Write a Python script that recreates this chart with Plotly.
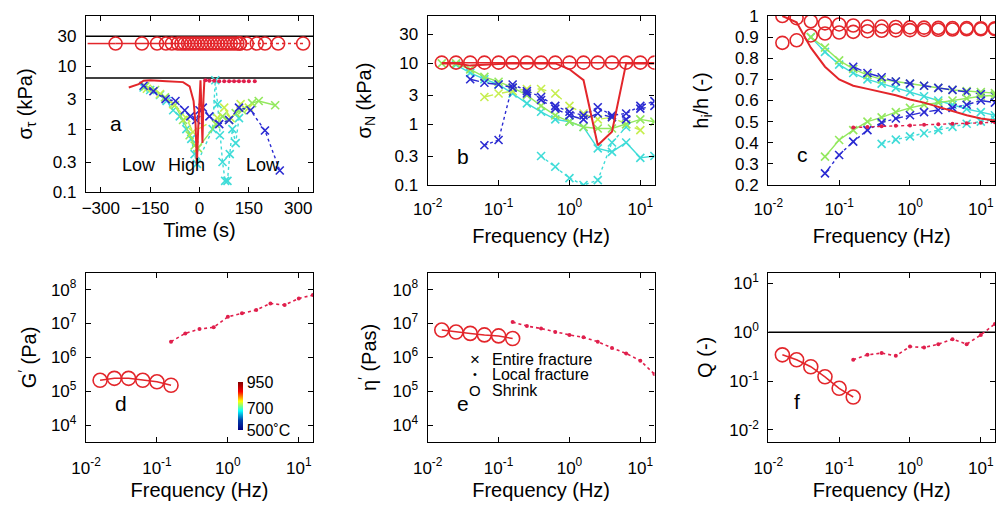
import plotly.graph_objects as go

# ---------------- data ----------------
FREQ = [0.0158, 0.0251, 0.0398, 0.0631, 0.1, 0.158, 0.251, 0.398, 0.631,
        1.0, 1.58, 2.51, 3.98, 6.31, 10.0, 15.8]

# panel a (time series)
a_circ_t = [-255, -175, -129, -102, -84, -66, -55, -45, -35, -25, -15, -5, 5, 15,
            25, 35, 45, 55, 65, 75, 85, 95, 105, 115, 123]
a_circ_v = [23] * len(a_circ_t)
a_circ2_t = [123, 144, 174, 199, 239, 315]
a_circ2_v = [23, 23, 23, 23, 23, 23]
a_redlead_t = [-340, -255]
a_redlead_v = [23, 23]
a_red_t = [-215, -185, -170, -150, -100, -50, -30, -18, -12, -8, -4, 0, 3, 6, 9, 12, 15]
a_red_v = [4.6, 5.2, 5.9, 6.0, 5.8, 5.6, 4.8, 2.8, 1.2, 0.28, 1.0, 4.0, 6.0, 2.0, 0.6, 3.0, 6.2]
a_loc_t = [18, 30, 45, 60, 75, 90, 105, 120, 135, 150, 168]
a_loc_v = [6.0, 5.9, 5.9, 5.8, 5.8, 5.8, 5.8, 5.8, 5.8, 5.8, 5.8]
a_blue_t = [-170, -140, -103, -73, -45, -28, -10, 0, 10, 30, 60, 90, 120, 155, 199, 244]
a_blue_v = [4.9, 4.0, 3.0, 2.8, 2.0, 1.6, 1.4, 2.0, 2.2, 1.6, 1.2, 1.4, 2.2, 2.0, 0.95, 0.22]
a_cyan_t = [-170, -150, -120, -100, -80, -60, -40, -25, -15, -8, 40, 48, 55, 62, 70, 78,
            85, 92, 100, 110, 120]
a_cyan_v = [4.6, 4.2, 3.5, 2.8, 2.0, 1.6, 1.0, 0.7, 0.4, 0.28, 1.0, 6.0, 2.5, 0.8, 0.3,
            0.15, 0.15, 0.4, 1.0, 0.6, 1.5]
a_lgreen_t = [-165, -135, -105, -75, -50, -30, -15, -5, 50, 70, 90, 110, 130, 160, 180, 230]
a_lgreen_v = [4.8, 4.2, 3.2, 2.4, 1.4, 0.8, 0.55, 0.5, 1.2, 1.6, 1.4, 1.8, 2.0, 2.6, 2.8, 2.4]
a_ygreen_t = [-160, -120, -80, -40, -20, 55, 75, 95, 125, 150]
a_ygreen_v = [4.4, 3.6, 2.5, 1.5, 0.9, 1.5, 2.2, 1.5, 2.5, 2.2]
a_ref_levels = [30, 6.5]
a_time_span = [-345, 345]

# panel b (sigma_N)
b_circ = [10.3] * 16
b_red = [10, 10, 9.2, 9.6, 9.8, 10, 10, 10, 10, 8.0, 5.3, 0.45, 0.75, 10, 10, 10]
b_blue_dash = [5.5, 4.8, 4.5, 4.0, 3.2, 2.5, 1.8, 1.4, 1.2, 1.5, 1.3, 1.2, 1.8, 2.0]      # FREQ[2:]
b_blue_dot = [0.45, 0.55, 4.5, 3.5, 2.8, 2.0, 1.6, 1.4, 1.9, 1.4, 1.5, 2.0, 2.4]         # FREQ[3:]
b_cyan = [9.5, 7.0, 5.5, 4.5, 3.2, 2.2, 1.6, 1.2, 1.1, 0.9, 0.4, 0.35, 0.5, 0.28, 0.3]   # FREQ[1:]
b_cyan2 = [0.3, 0.2, 0.13, 0.1, 0.12, 0.5, 0.9]                                         # FREQ[7:14]
b_lgreen = [10, 10, 8, 6, 5, 4, 3, 2, 1.4, 1.1, 0.9, 0.85, 0.85, 1.0, 1.2, 1.1]
b_ygreen = [2.8, 3.2, 3.5, 3.8, 3.8, 3.2, 2.0, 1.5, 1.2, 1.3, 1.0, 0.8]                 # FREQ[3:15]

# panel c (h_i/h)
c_circ_top = [1.0, 0.99, 0.975, 0.965, 0.96, 0.955, 0.95, 0.95, 0.948, 0.946, 0.945,
              0.944, 0.943, 0.943, 0.942, 0.942]
c_circ_bot = [0.873, 0.885, 0.908, 0.917, 0.922, 0.925, 0.928, 0.93, 0.932, 0.933, 0.934,
              0.935, 0.936, 0.937, 0.937, 0.938]
c_red = [1.0, 0.97, 0.85, 0.76, 0.70, 0.67, 0.655, 0.64, 0.625, 0.605, 0.59, 0.57, 0.55,
         0.53, 0.515, 0.505]
c_loc = [0.472, 0.475, 0.478, 0.48, 0.482, 0.485, 0.487, 0.49, 0.492, 0.495, 0.497]     # FREQ[5:]
c_lgreen_up = [0.9, 0.85, 0.79, 0.75, 0.72, 0.70, 0.69, 0.68, 0.67, 0.66, 0.65, 0.645, 0.64, 0.635]  # FREQ[2:]
c_cyan_up = [0.9, 0.83, 0.77, 0.73, 0.70, 0.68, 0.66, 0.64, 0.62, 0.60, 0.58, 0.56, 0.545, 0.53]     # FREQ[2:]
c_blue_up = [0.76, 0.73, 0.71, 0.69, 0.68, 0.67, 0.66, 0.65, 0.64, 0.63, 0.62]                       # FREQ[5:]
c_blue_lo = [0.255, 0.342, 0.405, 0.46, 0.495, 0.515, 0.53, 0.545, 0.555, 0.565, 0.58, 0.6, 0.59]  # FREQ[3:]
c_lgreen_lo = [0.334, 0.413, 0.46, 0.50, 0.52, 0.545, 0.565, 0.58, 0.59, 0.60, 0.61, 0.62, 0.625]  # FREQ[3:]
c_cyan_lo = [0.395, 0.415, 0.43, 0.445, 0.46, 0.475, 0.49, 0.50, 0.51]                             # FREQ[7:]

# panel d (G')
d_circ = [2.1e5, 2.4e5, 2.4e5, 2.1e5, 1.9e5, 1.5e5]              # FREQ[:6]
d_loc = [2.9e6, 5.1e6, 6.9e6, 7.7e6, 1.58e7, 2.0e7, 2.5e7, 3.9e7, 3.5e7, 5.5e7, 6.9e7]  # FREQ[5:]
# panel e (eta')
e_circ = [6.4e6, 5.6e6, 5.1e6, 4.6e6, 4.3e6, 3.6e6]
e_loc = [1.1e7, 8.4e6, 7.1e6, 5.6e6, 4.6e6, 3.9e6, 2.9e6, 1.9e6, 1.3e6, 8.0e5, 3.2e5]
# panel f (Q)
f_circ = [0.344, 0.272, 0.196, 0.122, 0.071, 0.047]
f_loc = [0.272, 0.344, 0.373, 0.328, 0.508, 0.485, 0.569, 0.72, 0.569, 0.88, 1.48]
f_ref_level = 1.0
freq_span = [0.01, 15.85]

temp_ticks = [500, 700, 950]
temp_labels = ["500˚C", "700", "950"]
legend_symbols = ["×", "•", "O"]
legend_names = ["Entire fracture", "Local fracture", "Shrink"]

# ---------------- style ----------------
RED = "#e3262b"
CRIMSON = "#e01f4c"
BLUE = "#2b2bd2"
CYAN = "#3fdcd8"
LGREEN = "#93e85e"
YGREEN = "#c6ee4e"
FONT = "Liberation Sans, Arial, sans-serif"

fig = go.Figure()


def xm(color):
    return dict(symbol="x-thin", size=8, color=color, line=dict(width=1.6, color=color))


def add(x, y, ax, mode="lines+markers", color="black", dash="solid", width=1.4,
        marker=None, name=None):
    xa = "x" if ax == 1 else f"x{ax}"
    ya = "y" if ax == 1 else f"y{ax}"
    fig.add_trace(go.Scatter(x=x, y=y, xaxis=xa, yaxis=ya, mode=mode,
                             line=dict(color=color, dash=dash, width=width),
                             marker=marker or {}, name=name, showlegend=False))


circ = dict(symbol="circle-open", size=13, color=RED, line=dict(width=1.6, color=RED))
circ_big = dict(symbol="circle-open", size=14, color=RED, line=dict(width=1.6, color=RED))
dotm = dict(symbol="circle", size=4, color=CRIMSON)

# panel a
for lvl in a_ref_levels:
    add(a_time_span, [lvl, lvl], 1, mode="lines", color="black", width=1.5)
add(a_cyan_t, a_cyan_v, 1, color=CYAN, dash="dot", marker=xm(CYAN))
add(a_lgreen_t, a_lgreen_v, 1, color=LGREEN, dash="solid", marker=xm(LGREEN))
add(a_ygreen_t, a_ygreen_v, 1, color=YGREEN, dash="dash", marker=xm(YGREEN))
add(a_blue_t, a_blue_v, 1, color=BLUE, dash="dot", marker=xm(BLUE))
add(a_red_t, a_red_v, 1, mode="lines", color=RED, width=2)
add(a_loc_t, a_loc_v, 1, color=CRIMSON, dash="dot", marker=dotm)
add(a_redlead_t, a_redlead_v, 1, mode="lines", color=RED, width=1.5)
add(a_circ_t, a_circ_v, 1, color=RED, marker=circ, width=1.5)
add(a_circ2_t, a_circ2_v, 1, color=RED, dash="dot", marker=circ, width=1.5)

# panel b
add(FREQ[7:14], b_cyan2, 2, color=CYAN, dash="dot", marker=xm(CYAN))
add(FREQ[1:], b_cyan, 2, color=CYAN, marker=xm(CYAN))
add(FREQ[3:15], b_ygreen, 2, color=YGREEN, dash="dash", marker=xm(YGREEN))
add(FREQ, b_lgreen, 2, color=LGREEN, marker=xm(LGREEN))
add(FREQ[3:], b_blue_dot, 2, color=BLUE, dash="dot", marker=xm(BLUE))
add(FREQ[2:], b_blue_dash, 2, color=BLUE, dash="dash", marker=xm(BLUE))
add(FREQ, b_red, 2, mode="lines", color=RED, width=2)
add(FREQ, b_circ, 2, color=RED, marker=circ, width=1.5)

# panel c
add(FREQ[2:], c_cyan_up, 3, color=CYAN, marker=xm(CYAN))
add(FREQ[2:], c_lgreen_up, 3, color=LGREEN, marker=xm(LGREEN))
add(FREQ[5:], c_blue_up, 3, color=BLUE, dash="dash", marker=xm(BLUE))
add(FREQ[7:], c_cyan_lo, 3, color=CYAN, dash="dot", marker=xm(CYAN))
add(FREQ[3:], c_lgreen_lo, 3, color=LGREEN, marker=xm(LGREEN))
add(FREQ[3:], c_blue_lo, 3, color=BLUE, dash="dashdot", marker=xm(BLUE))
add(FREQ[5:], c_loc, 3, color=CRIMSON, dash="dot", marker=dotm)
add(FREQ, c_red, 3, mode="lines", color=RED, width=2)
add(FREQ, c_circ_top, 3, mode="markers", marker=circ)
add(FREQ, c_circ_bot, 3, mode="markers", marker=circ)

# panel d
add(FREQ[:6], d_circ, 4, color=RED, marker=circ_big, width=1.5)
add(FREQ[5:], d_loc, 4, color=CRIMSON, dash="dot", marker=dotm, width=1.6)
fig.add_trace(go.Scatter(
    x=[None], y=[None], xaxis="x4", yaxis="y4", mode="markers", showlegend=False,
    marker=dict(color=[500], cmin=500, cmax=950, colorscale="Jet", showscale=True,
                colorbar=dict(x=0.2375, xanchor="left", y=1 - 430 / 514, yanchor="bottom",
                              len=48 / 514, lenmode="fraction", thickness=5,
                              outlinewidth=0, ticks="", tickvals=temp_ticks,
                              ticktext=temp_labels, xpad=0, ypad=0,
                              tickfont=dict(size=16, color="black", family=FONT)))))

# panel e
add(FREQ[:6], e_circ, 5, color=RED, marker=circ_big, width=1.5)
add(FREQ[5:], e_loc, 5, color=CRIMSON, dash="dot", marker=dotm, width=1.6)

# panel f
add(freq_span, [f_ref_level, f_ref_level], 6, mode="lines", color="black", width=1.5)
add(FREQ[:6], f_circ, 6, color=RED, marker=circ_big, width=1.5)
add(FREQ[5:], f_loc, 6, color=CRIMSON, dash="dot", marker=dotm, width=1.6)

# ---------------- axes ----------------
W, H = 1002, 514


def dom_x(l, r):
    return [l / W, r / W]


def dom_y(top, bot):
    return [1 - bot / H, 1 - top / H]


common = dict(showline=True, linecolor="black", linewidth=1.3, mirror="ticks",
              ticks="inside", ticklen=5, tickcolor="black", showgrid=False, zeroline=False,
              automargin=False,
              tickfont=dict(size=17, color="black", family=FONT))
TF = dict(size=20, color="black", family=FONT)

fvals = [0.01, 0.1, 1, 10]
ftext = ["10<sup>-2</sup>", "10<sup>-1</sup>", "10<sup>0</sup>", "10<sup>1</sup>"]
kvals = [0.1, 0.3, 1, 3, 10, 30]
ktext = ["0.1", "0.3", "1", "3", "10", "30"]
pvals = [1e4, 1e5, 1e6, 1e7, 1e8]
ptext = ["10<sup>4</sup>", "10<sup>5</sup>", "10<sup>6</sup>", "10<sup>7</sup>", "10<sup>8</sup>"]


def freq_ax(dom, anchor, tls, so):
    return dict(domain=dom, anchor=anchor, type="log", range=[-2, 1.2], tickvals=fvals,
                ticktext=ftext, ticklabelstandoff=tls,
                title=dict(text="Frequency (Hz)", standoff=so, font=TF), **common)


def y_ax(dom, anchor, title, so, **kw):
    return dict(domain=dom, anchor=anchor, ticklabelstandoff=5,
                title=dict(text=title, standoff=so, font=TF), **kw, **common)


XL = [86, 427.7, 768.3]
XR = [313, 654.5, 995]
TOP = dom_y(16, 185)
BOT = dom_y(272.7, 442)

layout = dict(
    width=W, height=H, margin=dict(l=0, r=0, t=0, b=0, autoexpand=False),
    paper_bgcolor="white", plot_bgcolor="white",
    font=dict(family=FONT, color="black"),
    xaxis=dict(domain=dom_x(XL[0], XR[0]), range=a_time_span,
               tickvals=[-300, -150, 0, 150, 300], anchor="y",
               title=dict(text="Time (s)", standoff=6, font=TF), **common),
    yaxis=y_ax(dom_y(16, 192), "x", "σ<sub>τ</sub> (kPa)", 14, type="log",
               range=[-1, 1.8], tickvals=kvals, ticktext=ktext),
    xaxis2=freq_ax(dom_x(XL[1], XR[1]), "y2", 8, 11),
    yaxis2=y_ax(TOP, "x2", "σ<sub>N</sub> (kPa)", 17, type="log", range=[-1, 1.78],
                tickvals=kvals, ticktext=ktext),
    xaxis3=freq_ax(dom_x(XL[2], XR[2]), "y3", 8, 11),
    yaxis3=y_ax(TOP, "x3", "h<sub>i</sub>/h (-)", 21, range=[0.2, 1.0],
                tickvals=[0.2, 0.3, 0.4, 0.5, 0.6, 0.7, 0.8, 0.9, 1.0],
                ticktext=["0.2", "0.3", "0.4", "0.5", "0.6", "0.7", "0.8", "0.9", "1"]),
    xaxis4=freq_ax(dom_x(XL[0], XR[0]), "y4", 10, 6),
    yaxis4=y_ax(BOT, "x4", "G<sup>′</sup> (Pa)", 8, type="log", range=[3.5, 8.5],
                tickvals=pvals, ticktext=ptext),
    xaxis5=freq_ax(dom_x(XL[1], XR[1]), "y5", 10, 6),
    yaxis5=y_ax(BOT, "x5", "η<sup>′</sup> (Pas)", 10, type="log", range=[3.5, 8.5],
                tickvals=pvals, ticktext=ptext),
    xaxis6=freq_ax(dom_x(XL[2], XR[2]), "y6", 10, 6),
    yaxis6=y_ax(BOT, "x6", "Q (-)", 11, type="log", range=[-2.25, 1.22],
                tickvals=[0.01, 0.1, 1, 10],
                ticktext=["10<sup>-2</sup>", "10<sup>-1</sup>", "10<sup>0</sup>", "10<sup>1</sup>"]),
    showlegend=False,
)
fig.update_layout(**layout)

# panel letters and labels
letters = [("a", "", 0.097, 0.314), ("b", "2", 0.121, 0.089), ("c", "3", 0.118, 0.099),
           ("d", "4", 0.12, 0.15), ("e", "5", 0.121, 0.15), ("f", "6", 0.103, 0.16)]
for txt, n, x, y in letters:
    fig.add_annotation(text=txt, xref=f"x{n} domain", yref=f"y{n} domain", x=x, y=y,
                       showarrow=False, font=dict(size=21, color="black", family=FONT))
for txt, x in [("Low", 0.151), ("High", 0.443), ("Low", 0.862)]:
    fig.add_annotation(text=txt, xref="x domain", yref="y domain", x=x, y=0.087,
                       showarrow=False, font=dict(size=18, color="black", family=FONT))

# legend (panel e) as key text
for sym, name, yy, ssz in zip(legend_symbols, legend_names, [0.49, 0.40, 0.307], [17, 11, 15]):
    fig.add_annotation(text=sym, xref="x5 domain", yref="y5 domain", x=0.2086, y=yy,
                       xanchor="center", yanchor="middle", showarrow=False,
                       font=dict(size=ssz, color="black", family=FONT))
    fig.add_annotation(text=name, xref="x5 domain", yref="y5 domain", x=0.276, y=yy,
                       xanchor="left", yanchor="middle", showarrow=False,
                       font=dict(size=16, color="black", family=FONT))

fig.write_html("out.html", config={"displayModeBar": False},
               post_script="document.body.style.margin='0px';")
